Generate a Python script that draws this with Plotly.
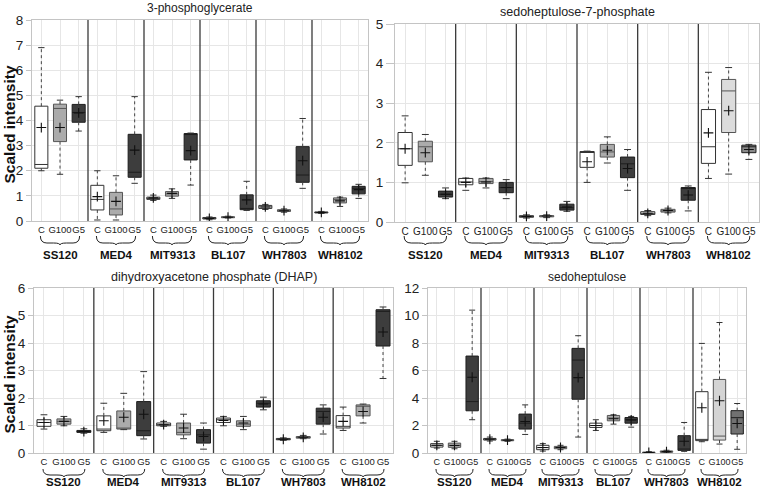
import plotly.graph_objects as go

W, H = 760, 488

strains = ["SS120", "MED4", "MIT9313", "BL107", "WH7803", "WH8102"]
conditions = ["C", "G100", "G5"]

# ---- 3-phosphoglycerate ----
pg_lw = [2.0, 1.86, 3.58, 0.04, 0.04, 1.5, 0.82, 0.9, 1.43, 0.05, 0.12, 0.42, 0.46, 0.35, 1.3, 0.3, 0.58, 0.9]
pg_q1 = [2.1, 3.16, 3.93, 0.44, 0.24, 1.74, 0.86, 0.99, 2.43, 0.08, 0.13, 0.45, 0.5, 0.38, 1.54, 0.32, 0.72, 1.08]
pg_med = [2.25, 4.48, 4.32, 0.86, 0.48, 1.94, 0.9, 1.08, 3.45, 0.11, 0.15, 0.5, 0.56, 0.41, 1.83, 0.34, 0.85, 1.3]
pg_q3 = [4.57, 4.65, 4.64, 1.42, 1.14, 3.45, 0.95, 1.17, 3.48, 0.14, 0.17, 1.04, 0.62, 0.45, 2.96, 0.36, 0.92, 1.38]
pg_uw = [6.9, 4.81, 4.95, 2.0, 1.8, 4.95, 1.03, 1.28, 3.5, 0.16, 0.19, 1.58, 0.66, 0.48, 4.08, 0.38, 0.95, 1.46]
pg_mean = [3.72, 3.72, 4.3, 0.97, 0.78, 2.82, 0.92, 1.1, 2.8, 0.1, 0.15, 0.84, 0.56, 0.41, 2.4, 0.34, 0.8, 1.25]

# ---- sedoheptulose-7-phosphate ----
s7_lw = [0.99, 1.18, 0.59, 0.8, 0.86, 0.59, 0.1, 0.11, 0.27, 1.0, 1.49, 0.8, 0.16, 0.23, 0.28, 1.1, 1.21, 1.58]
s7_q1 = [1.43, 1.52, 0.63, 0.94, 0.97, 0.74, 0.12, 0.13, 0.3, 1.38, 1.64, 1.12, 0.19, 0.25, 0.55, 1.48, 2.26, 1.75]
s7_med = [1.85, 1.9, 0.7, 1.01, 1.02, 0.87, 0.14, 0.15, 0.36, 1.76, 1.77, 1.47, 0.22, 0.28, 0.85, 1.9, 3.31, 1.9]
s7_q3 = [2.26, 2.04, 0.78, 1.1, 1.1, 1.0, 0.16, 0.16, 0.45, 1.78, 1.96, 1.64, 0.26, 0.32, 0.87, 2.84, 3.6, 1.94]
s7_uw = [2.68, 2.21, 0.86, 1.11, 1.11, 1.07, 0.18, 0.18, 0.52, 1.79, 2.15, 1.83, 0.29, 0.35, 0.91, 3.78, 3.9, 1.96]
s7_mean = [1.85, 1.75, 0.7, 1.0, 1.01, 0.87, 0.14, 0.15, 0.38, 1.52, 1.81, 1.35, 0.22, 0.29, 0.68, 2.25, 2.81, 1.83]

# ---- dihydroxyacetone phosphate (DHAP) ----
dh_lw = [0.87, 0.99, 0.72, 0.75, 0.85, 0.51, 0.97, 0.52, 0.14, 0.99, 0.85, 1.57, 0.46, 0.52, 0.69, 0.82, 1.09, 2.71]
dh_q1 = [0.97, 1.05, 0.75, 0.81, 0.87, 0.63, 0.99, 0.66, 0.36, 1.11, 0.97, 1.67, 0.48, 0.54, 1.05, 0.91, 1.35, 3.89]
dh_med = [1.11, 1.15, 0.78, 0.87, 0.9, 0.81, 1.03, 0.75, 0.66, 1.21, 1.05, 1.81, 0.5, 0.56, 1.51, 0.97, 1.7, 5.15]
dh_q3 = [1.21, 1.24, 0.82, 1.35, 1.53, 1.87, 1.09, 1.09, 0.85, 1.27, 1.17, 1.9, 0.53, 0.6, 1.63, 1.36, 1.75, 5.21]
dh_uw = [1.39, 1.33, 0.88, 1.81, 2.17, 2.96, 1.15, 1.41, 1.09, 1.33, 1.33, 2.03, 0.55, 0.64, 1.75, 1.67, 1.78, 5.31]
dh_mean = [1.11, 1.15, 0.78, 1.17, 1.3, 1.41, 1.03, 0.91, 0.6, 1.18, 1.09, 1.78, 0.5, 0.57, 1.3, 1.15, 1.51, 4.4]

# ---- sedoheptulose ----
sh_lw = [0.36, 0.31, 2.42, 0.87, 0.85, 1.35, 0.14, 0.24, 1.16, 1.64, 2.1, 1.88, 0.0, 0.02, 0.12, 0.82, 0.65, 0.27]
sh_q1 = [0.43, 0.41, 3.07, 0.94, 0.89, 1.74, 0.24, 0.31, 3.91, 1.86, 2.34, 2.17, 0.02, 0.05, 0.19, 0.9, 0.94, 1.38]
sh_med = [0.56, 0.56, 3.74, 1.01, 0.94, 2.17, 0.39, 0.41, 6.76, 2.0, 2.54, 2.42, 0.04, 0.1, 0.29, 0.99, 1.23, 2.57]
sh_q3 = [0.68, 0.72, 7.05, 1.06, 0.97, 2.83, 0.56, 0.48, 7.61, 2.17, 2.73, 2.58, 0.06, 0.15, 1.26, 4.46, 5.35, 3.08]
sh_uw = [0.85, 0.85, 10.39, 1.16, 1.01, 3.5, 0.68, 0.56, 8.53, 2.42, 2.78, 2.66, 0.1, 0.2, 2.22, 7.97, 9.49, 3.6]
sh_mean = [0.56, 0.55, 5.51, 1.0, 0.93, 2.29, 0.4, 0.4, 5.48, 2.0, 2.49, 2.4, 0.04, 0.1, 0.85, 3.29, 3.8, 2.15]

# ---------------- styles ----------------
FONT = "Liberation Sans, Arial, sans-serif"
fill_default = {"C": "#ffffff", "G100": "#ababab", "G5": "#3d3d3d"}
line_default = {"C": "#333333", "G100": "#555555", "G5": "#1e1e1e"}
GRID = "#e6e6e6"
FRAME = "#c4c4c4"


def px_x(v):
    return v / W


def px_y(v):
    return 1 - v / H


panels = [
    dict(title="3-phosphoglycerate", data=(pg_lw, pg_q1, pg_med, pg_q3, pg_uw, pg_mean),
         ymax=8, dtick=1, box=(32, 20, 368, 221), title_y=8, title_size=12, ticklen=5,
         xtick_size=9.5, ytitle=True, overrides={}),
    dict(title="sedoheptulose-7-phosphate", data=(s7_lw, s7_q1, s7_med, s7_q3, s7_uw, s7_mean),
         ymax=5, dtick=1, box=(395, 24, 759, 222), title_y=12, title_size=12.5, ticklen=8,
         xtick_size=10, ytitle=False,
         overrides={("WH8102", "G100"): "#dcdcdc", ("WH8102", "G5"): "#8a8a8a"}),
    dict(title="dihydroxyacetone phosphate (DHAP)", data=(dh_lw, dh_q1, dh_med, dh_q3, dh_uw, dh_mean),
         ymax=6, dtick=1, box=(34, 288, 393, 453), title_y=277, title_size=12.5, ticklen=5,
         xtick_size=9.5, ytitle=True, overrides={}),
    dict(title="sedoheptulose", data=(sh_lw, sh_q1, sh_med, sh_q3, sh_uw, sh_mean),
         ymax=12, dtick=2, box=(428, 288, 746, 453), title_y=277, title_size=12, ticklen=5,
         xtick_size=9, ytitle=False,
         overrides={("WH8102", "G100"): "#d4d4d4", ("WH8102", "G5"): "#717171"}),
]

fig = go.Figure()
shapes = []
annotations = []
layout_axes = {}

ncond = len(conditions)
for i, p in enumerate(panels):
    s = "" if i == 0 else str(i + 1)
    xa, ya = "x" + s, "y" + s
    lw, q1, med, q3, uw, mean = p["data"]
    positions = [g * ncond + c for g in range(len(strains)) for c in range(ncond)]
    labels = [conditions[c] for g in range(len(strains)) for c in range(ncond)]

    # whiskers (dotted) and caps
    wx, wy, cx, cy = [], [], [], []
    for k, pos in enumerate(positions):
        wx += [pos, pos, None, pos, pos, None]
        wy += [q3[k], uw[k], None, q1[k], lw[k], None]
        cx += [pos - 0.17, pos + 0.17, None, pos - 0.17, pos + 0.17, None]
        cy += [uw[k], uw[k], None, lw[k], lw[k], None]
    fig.add_trace(go.Scatter(x=wx, y=wy, mode="lines", xaxis=xa, yaxis=ya,
                             line=dict(color="#444444", width=1, dash="dot"),
                             hoverinfo="skip", showlegend=False))
    fig.add_trace(go.Scatter(x=cx, y=cy, mode="lines", xaxis=xa, yaxis=ya,
                             line=dict(color="#333333", width=1),
                             hoverinfo="skip", showlegend=False))
    # boxes
    for k, pos in enumerate(positions):
        strain = strains[k // ncond]
        cond = conditions[k % ncond]
        fillc = p["overrides"].get((strain, cond), fill_default[cond])
        fig.add_trace(go.Box(x=[pos], q1=[q1[k]], median=[med[k]], q3=[q3[k]],
                             lowerfence=[q1[k]], upperfence=[q3[k]],
                             width=0.7, whiskerwidth=0, fillcolor=fillc,
                             line=dict(color=line_default[cond], width=1),
                             boxpoints=False, xaxis=xa, yaxis=ya,
                             hoverinfo="skip", showlegend=False))
    # means
    fig.add_trace(go.Scatter(x=positions, y=mean, mode="markers", xaxis=xa, yaxis=ya,
                             marker=dict(symbol="cross-thin", size=7,
                                         line=dict(color="#111111", width=1.1)),
                             hoverinfo="skip", showlegend=False))

    x0, y0, x1, y1 = p["box"]
    n = len(positions)
    layout_axes["xaxis" + s] = dict(
        domain=[px_x(x0), px_x(x1)], anchor=ya, range=[-0.5, n - 0.5], autorange=False,
        tickmode="array", tickvals=positions, ticktext=labels, tickangle=0,
        automargin=False,
        showgrid=True, gridcolor=GRID, gridwidth=1, zeroline=False,
        showline=True, linecolor=FRAME, linewidth=1, mirror=True, ticks="",
        tickfont=dict(family=FONT, size=p["xtick_size"], color="#222222"), fixedrange=True)
    layout_axes["yaxis" + s] = dict(
        domain=[px_y(y1), px_y(y0)], anchor=xa, range=[0, p["ymax"]], autorange=False,
        dtick=p["dtick"], automargin=False,
        showgrid=True, gridcolor=GRID, gridwidth=1, zeroline=False,
        showline=True, linecolor=FRAME, linewidth=1, mirror=True,
        ticks="outside", ticklen=p["ticklen"], tickcolor=FRAME,
        tickfont=dict(family=FONT, size=13.5, color="#222222"), fixedrange=True)

    # group separators
    for g in range(1, len(strains)):
        sx = g * ncond - 0.5
        shapes.append(dict(type="line", xref=xa, yref=ya + " domain", x0=sx, x1=sx, y0=0, y1=1,
                           line=dict(color="#3a3a3a", width=1.3)))
    # braces and strain labels
    bottom_row = y1 >= 400
    yt = 469 if bottom_row else 236
    yb = 475 if bottom_row else 243
    yd = 477 if bottom_row else 245
    ylab = 482 if bottom_row else 255
    for g, strain in enumerate(strains):
        a = g * ncond - 0.05
        b = g * ncond + (ncond - 1) + 0.05
        m = (a + b) / 2
        r = 0.35
        path = (f"M {a},{px_y(yt)} Q {a},{px_y(yb)} {a + r},{px_y(yb)} "
                f"L {m - r},{px_y(yb)} Q {m},{px_y(yb)} {m},{px_y(yd)} "
                f"Q {m},{px_y(yb)} {m + r},{px_y(yb)} L {b - r},{px_y(yb)} "
                f"Q {b},{px_y(yb)} {b},{px_y(yt)}")
        shapes.append(dict(type="path", xref=xa, yref="paper", path=path,
                           line=dict(color="#222222", width=1)))
        annotations.append(dict(x=m, y=px_y(ylab), xref=xa, yref="paper", text=f"<b>{strain}</b>",
                                showarrow=False, xanchor="center", yanchor="middle",
                                font=dict(family=FONT, size=11.5, color="#111111")))
    # panel title
    annotations.append(dict(x=px_x((x0 + x1) / 2), y=px_y(p["title_y"]), xref="paper", yref="paper",
                            text=p["title"], showarrow=False, xanchor="center", yanchor="middle",
                            font=dict(family=FONT, size=p["title_size"], color="#222222")))
    if p["ytitle"]:
        annotations.append(dict(x=px_x(9), y=px_y((y0 + y1) / 2 + 4), xref="paper", yref="paper",
                                text="<b>Scaled intensity</b>", textangle=-90, showarrow=False,
                                xanchor="center", yanchor="middle",
                                font=dict(family=FONT, size=15.5, color="#111111")))

fig.update_layout(width=W, height=H, margin=dict(l=0, r=0, t=0, b=0, autoexpand=False),
                  paper_bgcolor="white", plot_bgcolor="white", showlegend=False,
                  shapes=shapes, annotations=annotations, **layout_axes)

fig.write_html("out.html", config={"displayModeBar": False, "staticPlot": True},
               post_script="document.body.style.margin='0';")
